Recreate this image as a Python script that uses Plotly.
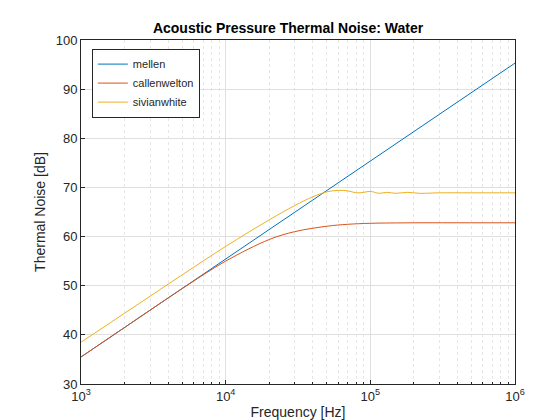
import plotly.graph_objects as go

f_mellen = [1e3, 1e4, 1e5, 1e6]
mellen = [35.5, 55.4, 75.4, 95.3]

f_cw = [1e3, 2e3, 5e3, 1e4, 2e4, 3e4, 5e4, 7e4, 1e5, 2e5, 5e5, 1e6]
callenwelton = [35.5, 41.5, 49.4, 55.0, 59.4, 61.0, 62.1, 62.5, 62.7, 62.8, 62.8, 62.8]

f_sw = [1e3, 2e3, 5e3, 1e4, 2e4, 3e4, 4e4, 5e4, 6e4, 7e4, 8e4, 9e4, 1e5, 1.15e5, 1.3e5, 1.5e5, 1.8e5, 2.2e5, 3e5, 5e5, 1e6]
sivianwhite = [38.5, 44.4, 52.2, 58.0, 63.4, 66.3, 68.1, 69.1, 69.4, 69.3, 68.9, 69.0, 69.2, 68.8, 69.0, 68.8, 69.0, 68.8, 68.9, 68.9, 68.9]

xtickvals = [1e3, 1e4, 1e5, 1e6]
xticktext = ["10<sup>3</sup>", "10<sup>4</sup>", "10<sup>5</sup>", "10<sup>6</sup>"]

fig = go.Figure()
fig.add_trace(go.Scatter(x=f_mellen, y=mellen, name="mellen", mode="lines", line=dict(color="#0072BD", width=1)))
fig.add_trace(go.Scatter(x=f_cw, y=callenwelton, name="callenwelton", mode="lines", line=dict(color="#D95319", width=1, shape="spline")))
fig.add_trace(go.Scatter(x=f_sw, y=sivianwhite, name="sivianwhite", mode="lines", line=dict(color="#EDB120", width=1, shape="spline")))

ax = dict(showline=True, mirror=True, linecolor="#262626", linewidth=1, ticks="inside", ticklen=4,
          tickcolor="#262626", gridcolor="#dfdfdf", zeroline=False, automargin=False,
          tickfont=dict(size=13, color="#262626"))
fig.update_layout(
    width=560, height=420, margin=dict(l=73, r=53, t=32, b=44),
    paper_bgcolor="white", plot_bgcolor="white",
    font=dict(family="Liberation Sans, Arial", color="#262626"),
    title=dict(text="<b>Acoustic Pressure Thermal Noise: Water</b>", x=0.5, xanchor="center", y=0.965, font=dict(size=14, color="black")),
    xaxis=dict(type="log", range=[3, 6], tickvals=xtickvals, ticktext=xticktext,
               title=dict(text="Frequency [Hz]", standoff=4, font=dict(size=14)),
               minor=dict(ticks="inside", ticklen=2, dtick="D1", showgrid=True, gridcolor="#e6e6e6",
                          griddash="dot", tickcolor="#262626"), **ax),
    yaxis=dict(range=[30, 100], dtick=10, title=dict(text="Thermal Noise [dB]", standoff=6, font=dict(size=14)), **ax),
    legend=dict(x=0.025, y=0.975, xanchor="left", yanchor="top", bordercolor="#262626", borderwidth=1,
                bgcolor="white", font=dict(size=11), tracegroupgap=0),
    showlegend=True,
)
fig.write_html("out.html")
